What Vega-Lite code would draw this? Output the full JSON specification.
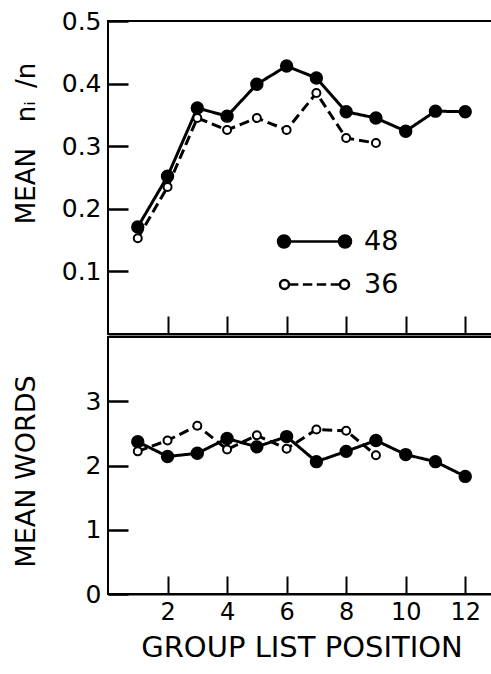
{
  "$schema": "https://vega.github.io/schema/vega-lite/v6.json",
  "autosize": {"type": "pad"},
  "padding": {"left": 10, "top": 8, "right": 0, "bottom": 0},
  "background": "white",
  "config": {
    "font": "DejaVu Sans",
    "view": {"stroke": "black", "strokeWidth": 2},
    "axis": {
      "domainColor": "black", "domainWidth": 2, "tickColor": "black", "tickWidth": 2,
      "labelColor": "black", "titleColor": "black", "grid": false,
      "labelFont": "DejaVu Sans", "titleFont": "DejaVu Sans", "titleFontWeight": "normal"
    },
    "axisY": {"tickColor": "black", "tickWidth": 2.5, "tickSize": 20, "ticks": true, "offset": -20, "domain": false},
    "concat": {"spacing": 0}
  },
  "datasets": {
    "top": [
      {"series": "48", "pos": 1, "value": 0.171}, {"series": "48", "pos": 2, "value": 0.252},
      {"series": "48", "pos": 3, "value": 0.361}, {"series": "48", "pos": 4, "value": 0.348},
      {"series": "48", "pos": 5, "value": 0.399}, {"series": "48", "pos": 6, "value": 0.428},
      {"series": "48", "pos": 7, "value": 0.409}, {"series": "48", "pos": 8, "value": 0.355},
      {"series": "48", "pos": 9, "value": 0.345}, {"series": "48", "pos": 10, "value": 0.324},
      {"series": "48", "pos": 11, "value": 0.356}, {"series": "48", "pos": 12, "value": 0.355},
      {"series": "36", "pos": 1, "value": 0.153}, {"series": "36", "pos": 2, "value": 0.235},
      {"series": "36", "pos": 3, "value": 0.345}, {"series": "36", "pos": 4, "value": 0.326},
      {"series": "36", "pos": 5, "value": 0.345}, {"series": "36", "pos": 6, "value": 0.326},
      {"series": "36", "pos": 7, "value": 0.385}, {"series": "36", "pos": 8, "value": 0.313},
      {"series": "36", "pos": 9, "value": 0.305}
    ],
    "bottom": [
      {"series": "48", "pos": 1, "value": 2.37}, {"series": "48", "pos": 2, "value": 2.14},
      {"series": "48", "pos": 3, "value": 2.19}, {"series": "48", "pos": 4, "value": 2.42},
      {"series": "48", "pos": 5, "value": 2.29}, {"series": "48", "pos": 6, "value": 2.45},
      {"series": "48", "pos": 7, "value": 2.06}, {"series": "48", "pos": 8, "value": 2.22},
      {"series": "48", "pos": 9, "value": 2.39}, {"series": "48", "pos": 10, "value": 2.17},
      {"series": "48", "pos": 11, "value": 2.06}, {"series": "48", "pos": 12, "value": 1.83},
      {"series": "36", "pos": 1, "value": 2.22}, {"series": "36", "pos": 2, "value": 2.39},
      {"series": "36", "pos": 3, "value": 2.62}, {"series": "36", "pos": 4, "value": 2.25},
      {"series": "36", "pos": 5, "value": 2.47}, {"series": "36", "pos": 6, "value": 2.26},
      {"series": "36", "pos": 7, "value": 2.56}, {"series": "36", "pos": 8, "value": 2.54},
      {"series": "36", "pos": 9, "value": 2.16}
    ]
  },
  "resolve": {"scale": {"fill": "independent", "strokeDash": "independent", "size": "independent"}},
  "vconcat": [
    {
      "width": 387,
      "height": 313,
      "data": {"name": "top"},
      "encoding": {
        "x": {
          "field": "pos", "type": "quantitative",
          "scale": {"domain": [0, 13], "nice": false, "zero": false},
          "axis": {"values": [2, 4, 6, 8, 10, 12], "labels": false, "title": null, "tickSize": -18}
        },
        "y": {
          "field": "value", "type": "quantitative",
          "scale": {"domain": [0, 0.5], "nice": false},
          "axis": {
            "values": [0.1, 0.2, 0.3, 0.4, 0.5], "format": ".1f",
            "labelFontSize": 25, "labelPadding": 7,
            "title": "MEAN\u2003nᵢ\u2002/n", "titleFontSize": 26, "titleX": -102, "titleY": 122,
            "titleBaseline": "middle", "titleAngle": -90
          }
        }
      },
      "layer": [
        {
          "mark": {"type": "line", "color": "black", "strokeWidth": 3},
          "encoding": {
            "strokeDash": {
              "field": "series", "type": "nominal",
              "scale": {"domain": ["36", "48"], "range": [[10, 5], [1, 0]]},
              "legend": null
            }
          }
        },
        {
          "mark": {"type": "circle", "stroke": "black", "strokeWidth": 2, "opacity": 1},
          "encoding": {
            "fill": {
              "field": "series", "type": "nominal",
              "scale": {"domain": ["48", "36"], "range": ["black", "white"]},
              "legend": {
                "orient": "none", "legendX": 193, "legendY": 207, "title": null,
                "symbolType": {"expr": "datum.value === '48' ? 'M-2.45,0L2.45,0M-2.45,0A0.6,0.6,0,1,1,-3.65,0A0.6,0.6,0,1,1,-2.45,0ZM3.65,0A0.6,0.6,0,1,1,2.45,0A0.6,0.6,0,1,1,3.65,0Z' : 'M-2.55,0L-1.61,0M-1.16,0L-0.22,0M0.23,0L1.17,0M1.62,0L2.55,0M-2.55,0A0.45,0.45,0,1,1,-3.45,0A0.45,0.45,0,1,1,-2.55,0ZM3.45,0A0.45,0.45,0,1,1,2.55,0A0.45,0.45,0,1,1,3.45,0Z'"},
                "symbolSize": 400, "symbolStrokeColor": "black", "symbolStrokeWidth": 2.5,
                "labelFontSize": 27, "labelColor": "black", "labelOffset": 36,
                "rowPadding": 15, "padding": 0,
                "encode": {
                  "symbols": {
                    "update": {
                      "size": {"value": 400},
                      "stroke": {"value": "black"},
                      "opacity": {"value": 1}
                    }
                  }
                }
              }
            },
            "size": {
              "field": "series", "type": "nominal",
              "scale": {"domain": ["36", "48"], "range": [64, 130]},
              "legend": null
            }
          }
        }
      ]
    },
    {
      "width": 387,
      "height": 257,
      "data": {"name": "bottom"},
      "encoding": {
        "x": {
          "field": "pos", "type": "quantitative",
          "scale": {"domain": [0, 13], "nice": false, "zero": false},
          "axis": {
            "values": [2, 4, 6, 8, 10, 12], "tickSize": -18, "labelFontSize": 24,
            "labelPadding": 24, "title": "GROUP LIST POSITION", "titleFontSize": 29,
            "titlePadding": 9
          }
        },
        "y": {
          "field": "value", "type": "quantitative",
          "scale": {"domain": [0, 4], "nice": false},
          "axis": {
            "values": [0, 1, 2, 3],
            "labelFontSize": 25, "labelPadding": 7,
            "title": "MEAN WORDS", "titleFontSize": 27, "titleX": -102, "titleY": 134,
            "titleBaseline": "middle", "titleAngle": -90
          }
        }
      },
      "layer": [
        {
          "mark": {"type": "line", "color": "black", "strokeWidth": 3},
          "encoding": {
            "strokeDash": {
              "field": "series", "type": "nominal",
              "scale": {"domain": ["36", "48"], "range": [[10, 5], [1, 0]]},
              "legend": null
            }
          }
        },
        {
          "mark": {"type": "circle", "stroke": "black", "strokeWidth": 2, "opacity": 1},
          "encoding": {
            "fill": {
              "field": "series", "type": "nominal",
              "scale": {"domain": ["48", "36"], "range": ["black", "white"]},
              "legend": null
            },
            "size": {
              "field": "series", "type": "nominal",
              "scale": {"domain": ["36", "48"], "range": [64, 130]},
              "legend": null
            }
          }
        }
      ]
    }
  ]
}
